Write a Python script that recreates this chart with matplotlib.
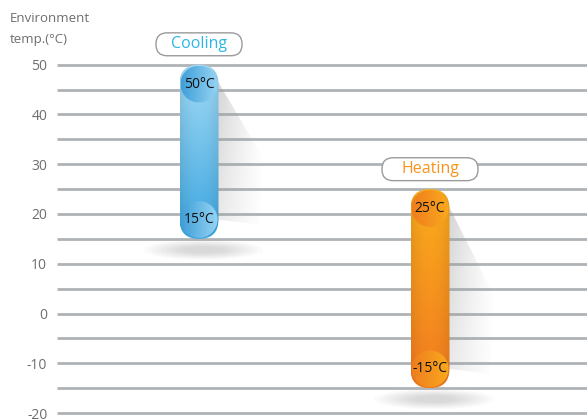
import numpy as np
import matplotlib
matplotlib.use('Agg')
import matplotlib.pyplot as plt
from matplotlib.patches import FancyBboxPatch, Ellipse, Polygon
from matplotlib.colors import to_rgb

# Data
modes = ['Cooling', 'Heating']
t_max = [50, 25]
t_min = [15, -15]
y_ticks = [50, 40, 30, 20, 10, 0, -10, -20]
tick_labels = ['50', '40', '30', '20', '10', '0', '-10', '-20']
grid_vals = list(range(-20, 51, 5))

# Style
plt.rcParams['font.family'] = ['Open Sans', 'DejaVu Sans']
TXT = '#6d6e71'
bar_top = ['#a3dbf7', '#fbae1c']
bar_bot = ['#3ca6df', '#f27a20']
circ_dark = ['#3f9fd8', '#f07e1e']
circ_light = ['#96d4f4', '#f9a91f']
label_col = ['#2bb6e6', '#f7931e']
xpos = [142, 373]          # bar centres (px units along x)
label_y = [54.1, 29.0]     # label box centres
label_w = [86, 96]
BW = 39                    # bar width px
R = BW / 2
ASP = 0.2                  # 1 degree = 5 px
RY = R * ASP

fig = plt.figure(figsize=(5.87, 4.19), dpi=100)
ax = fig.add_axes([57 / 587, 0, 530 / 587, 1])
ax.set_xlim(0, 530)
ax.set_ylim(-21.2, 63)
for s in ax.spines.values():
    s.set_visible(False)
ax.set_xticks([])
ax.set_yticks(y_ticks)
ax.set_yticklabels(tick_labels)
ax.tick_params(axis='y', length=0, pad=7, labelsize=10, labelcolor=TXT)

# grid lines
ax.hlines(grid_vals, 0, 530, color='#afb3b6', lw=2.0, zorder=1)


def grad_img(c1, c2, n=200, vertical=True):
    a, b = np.array(to_rgb(c1)), np.array(to_rgb(c2))
    t = np.linspace(0, 1, n)
    img = a[None, :] * (1 - t[:, None]) + b[None, :] * t[:, None]
    if vertical:
        return img[:, None, :]
    return img[None, :, :]


for i, m in enumerate(modes):
    x0 = xpos[i] - R
    y0, y1 = t_min[i], t_max[i]
    yt, yb = y1 - RY, y0 + RY

    # bottom soft shadow
    for k in range(10):
        e = Ellipse((xpos[i] + 4, y0 - 2.2), 120 - k * 9, 4.0 - k * 0.3,
                    fc='#808080', ec='none', alpha=0.03, zorder=2)
        ax.add_patch(e)

    # diagonal shadow
    xr = xpos[i] + R
    poly = Polygon([(xr - 2, yt + 1), (xr + 45, yt - 0.55 * (yt - yb)),
                    (xr + 40, yb - 1), (xr - 2, yb)], closed=True,
                   fc='none', ec='none')
    ax.add_patch(poly)
    h = np.zeros((50, 60, 4))
    fx = np.linspace(0, 1, 60)[None, :]
    fy = np.linspace(0, 1, 50)[:, None]
    h[..., :3] = 0.62
    h[..., 3] = 0.45 * (1 - fx) ** 1.2 * (1 - 0.5 * fy)
    im = ax.imshow(h, extent=[xr - 2, xr + 46, yb - 1, yt + 1], origin='upper',
                   aspect='auto', zorder=2, interpolation='bilinear')
    im.set_clip_path(poly)

    # bar body
    box = FancyBboxPatch((x0, y0), BW, y1 - y0,
                         boxstyle=f'round,pad=0,rounding_size={R}',
                         mutation_aspect=ASP, fc='none', ec='none', zorder=3)
    ax.add_patch(box)
    body = grad_img(bar_top[i], bar_bot[i])
    shade = 1 - 0.08 * np.abs(np.linspace(-1, 1, 40))[None, :, None] ** 2
    body = np.clip(body * shade, 0, 1)
    im = ax.imshow(body, extent=[x0, x0 + BW, y0, y1], origin='upper',
                   aspect='auto', zorder=3, interpolation='bilinear')
    im.set_clip_path(box)

    # end circles with labels
    for cy, val in [(yt, t_max[i]), (yb, t_min[i])]:
        circ = Ellipse((xpos[i], cy), 37, 37 * ASP, fc='none', ec='none', zorder=4)
        ax.add_patch(circ)
        cim = ax.imshow(grad_img(circ_dark[i], circ_light[i], vertical=False),
                        extent=[xpos[i] - 18.5, xpos[i] + 18.5, cy - 3.7, cy + 3.7],
                        aspect='auto', zorder=4, interpolation='bilinear')
        cim.set_clip_path(circ)
        ax.text(xpos[i], cy, f'{val}°C', ha='center', va='center',
                fontsize=10, color='#111111', zorder=5)

    # mode label
    lw_ = label_w[i]
    lb = FancyBboxPatch((xpos[i] - lw_ / 2, label_y[i] - 2.3), lw_, 4.6,
                        boxstyle='round,pad=0,rounding_size=11',
                        mutation_aspect=ASP, fc='white', ec='#9b9b9b',
                        lw=1.0, zorder=5)
    ax.add_patch(lb)
    ax.text(xpos[i], label_y[i], m, ha='center', va='center',
            fontsize=11.5, color=label_col[i], zorder=6)

ax.set_xlim(0, 530)
ax.set_ylim(-21.2, 63)

fig.text(10 / 587, 1 - 19 / 419, 'Environment', ha='left', va='center',
         fontsize=9.5, color=TXT)
fig.text(10 / 587, 1 - 39 / 419, 'temp.(°C)', ha='left', va='center',
         fontsize=9.5, color=TXT)

fig.savefig('out.png', dpi=100)
